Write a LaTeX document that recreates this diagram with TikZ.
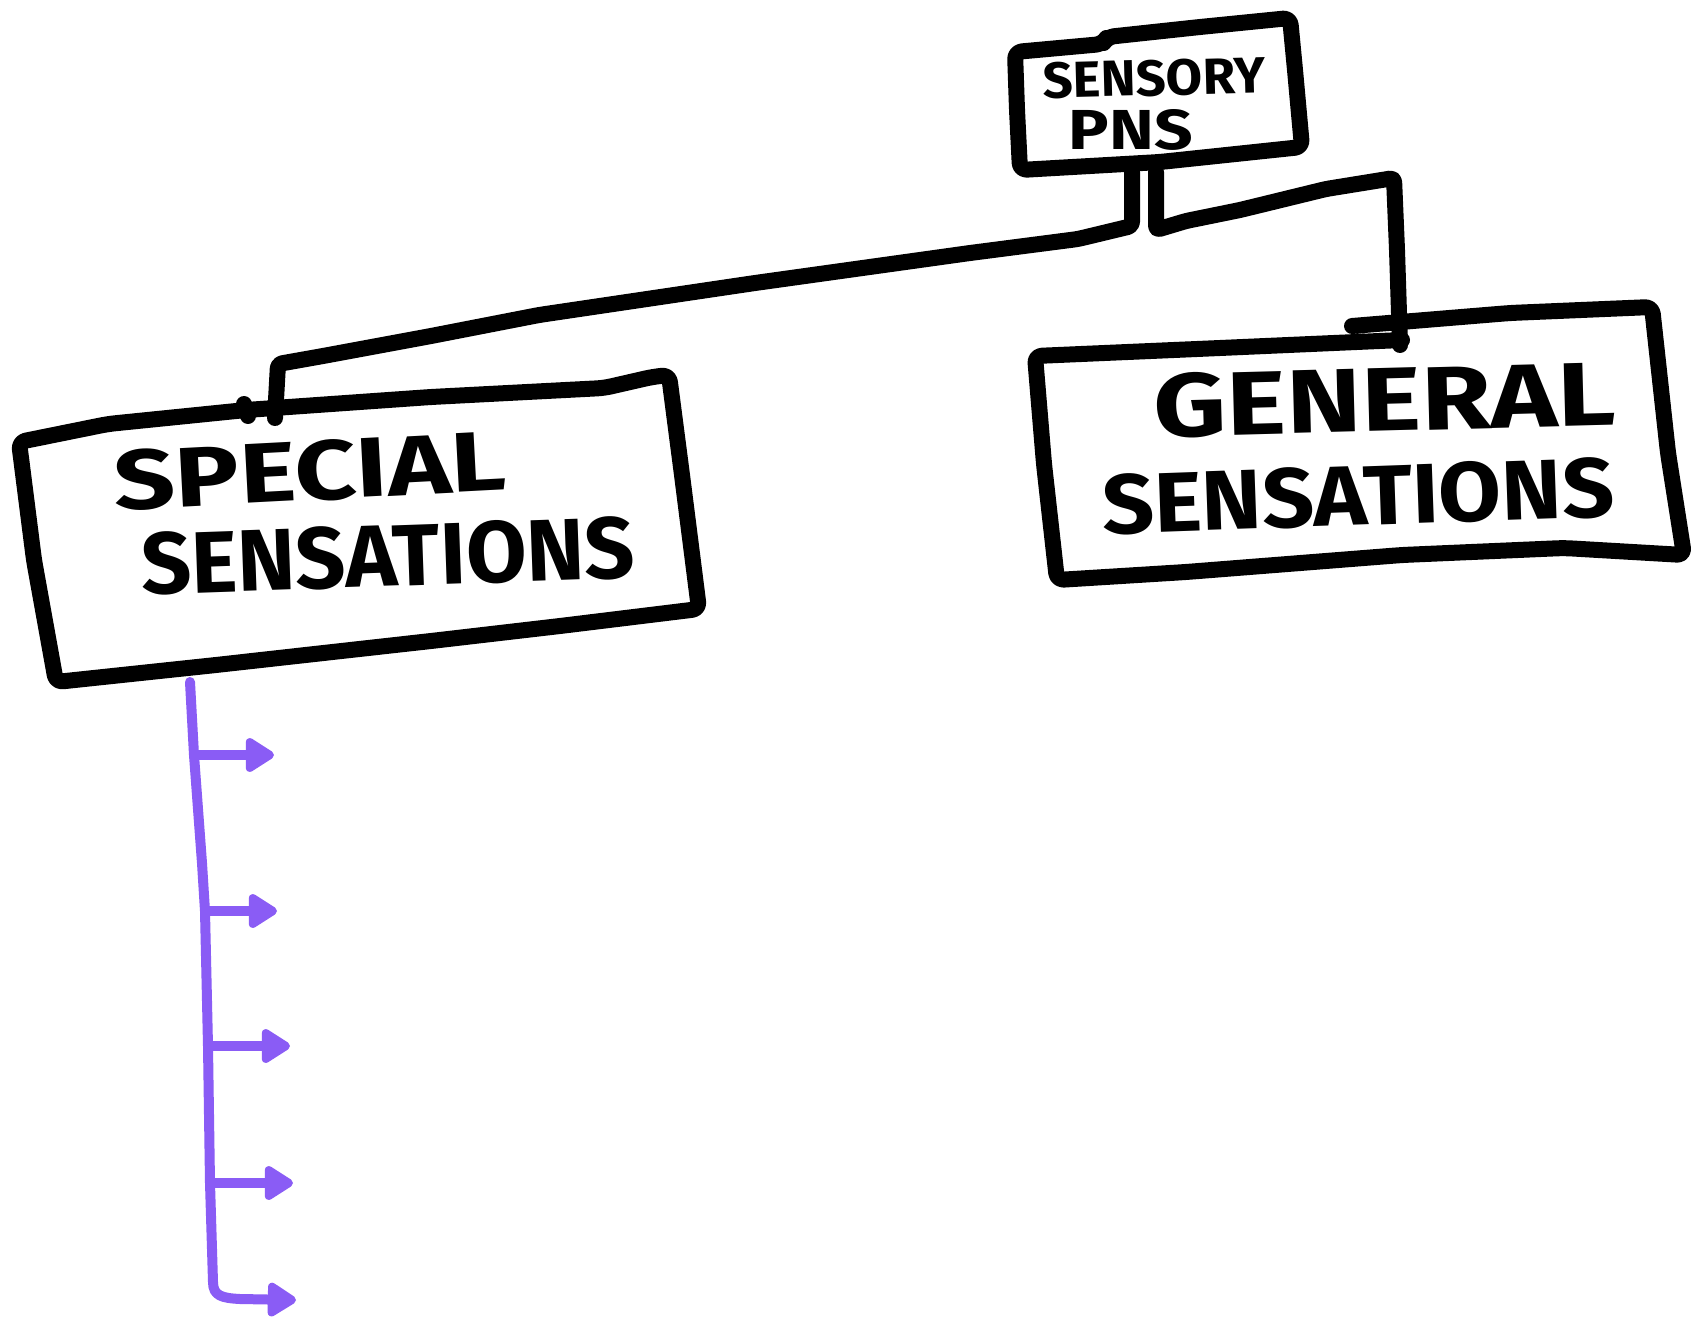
\documentclass[tikz,border=0pt]{standalone}
\usepackage{fontspec}
\setmainfont{Fira Sans}
\usetikzlibrary{arrows.meta}
\definecolor{marker}{HTML}{8A5CF5}
\begin{document}
\begin{tikzpicture}[x=1pt,y=-1pt,
  outline/.style={draw=black, line width=16pt, line cap=round, line join=round, rounded corners=7pt},
  link/.style={draw=black, line width=16pt, line cap=round, line join=round, rounded corners=4pt},
  lettering/.style={inner sep=0pt, font=\bfseries},
  stroke/.style={draw=marker, line width=10pt, line cap=round, line join=round},
  branch/.style={stroke, -{Triangle[length=32pt,width=38pt,round]}},
]
\useasboundingbox[fill=white] (0,0) rectangle (1691,1319);

% ---------- top box: sensory PNS ----------
\draw[outline] (1015,52) -- (1103,44) -- (1107,37) -- (1200,27) -- (1290,18)
  -- (1295,70) -- (1302,147) -- (1160,162) -- (1020,170) -- (1017,110) -- cycle;
\node[lettering, rotate=1.5] (sensory) at (1154,78) {\resizebox{222pt}{36pt}{SENSORY}};
\node[lettering] (pns) at (1131,130) {\resizebox{124pt}{40pt}{PNS}};

% ---------- left box: special sensations ----------
\draw[outline] (19,442) -- (108,424) -- (246,410) -- (431,397) -- (604,388)
  -- (652,377) -- (669,375) -- (682,475) -- (699,609) -- (560,626) -- (431,641)
  -- (216,665) -- (56,682) -- (34,560) -- cycle;
\draw[line width=16pt, line cap=round] (244,404) -- (248,416);
\node[lettering, rotate=3] (special) at (310,471) {\resizebox{392pt}{60pt}{SPECIAL}};
\node[lettering, rotate=2] (specsens) at (388,556) {\resizebox{494pt}{62pt}{SENSATIONS}};

% ---------- right box: general sensations ----------
\draw[outline] (1402,340) -- (1220,348) -- (1035,356) -- (1044,464) -- (1057,580)
  -- (1186,572) -- (1402,555) -- (1564,548) -- (1684,555) -- (1668,453) -- (1652,307)
  -- (1510,313) -- (1352,326);
\node[lettering, rotate=1.5] (general) at (1385,400) {\resizebox{462pt}{64pt}{GENERAL}};
\node[lettering, rotate=2] (gensens) at (1358,496) {\resizebox{512pt}{60pt}{SENSATIONS}};

% ---------- connectors from the top box ----------
\coordinate (stemL) at (1132,172);
\coordinate (stemR) at (1156,172);
\coordinate (dropL) at (275,418);
\coordinate (dropR) at (1400,345);
\draw[link] (stemL) -- (1132,226) -- (1078,239) -- (970,253) -- (755,283)
  -- (539,315) -- (431,336) -- (323,356) -- (278,364) -- (dropL);
\draw[link] (stemR) -- (1156,230) -- (1186,221) -- (1240,210) -- (1326,189)
  -- (1394,178) -- (1397,250) -- (dropR);

% ---------- purple list of branches ----------
\coordinate (top) at (190,682);
\coordinate (b1) at (194,755);
\coordinate (b2) at (205,911);
\coordinate (b3) at (208,1046);
\coordinate (b4) at (210,1183);
\coordinate (b5) at (213,1282);
\coordinate (t1) at (274,755);
\coordinate (t2) at (277,911);
\coordinate (t3) at (290,1046);
\coordinate (t4) at (293,1183);
\coordinate (t5) at (296,1300);
\draw[stroke] (top) -- (b1) -- (202,863) -- (b2) -- (b3) -- (b4) -- (b5);
\draw[branch] (b1) -- (t1);
\draw[branch] (b2) -- (t2);
\draw[branch] (b3) -- (t3);
\draw[branch] (b4) -- (t4);
\draw[branch] (b5) .. controls (213,1296) and (222,1298) .. (240,1299) -- (t5);
\end{tikzpicture}
\end{document}
